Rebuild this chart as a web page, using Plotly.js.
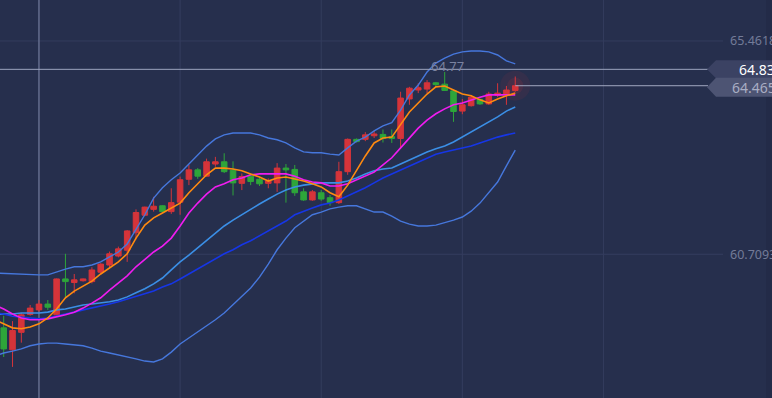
<!DOCTYPE html>
<html>
<head>
<meta charset="utf-8">
<script src="https://cdn.plot.ly/plotly-3.0.1.min.js"></script>
<style>html,body{margin:0;padding:0;background:#262f4d;overflow:hidden}</style>
</head>
<body>
<div id="chart" style="width:772px;height:398px"></div>
<script>
// ---- candle data (index 0..58) ----
const openP  = [59.07,58.58,58.97,59.37,59.47,59.60,59.36,60.16,60.08,60.12,60.10,60.31,60.47,60.67,60.80,61.19,61.58,61.71,61.79,61.66,61.87,62.38,62.59,62.45,62.72,62.77,62.58,62.29,62.45,62.38,62.29,62.30,62.63,62.60,62.10,61.92,62.08,61.97,61.86,62.55,63.27,63.27,63.35,63.38,63.33,63.29,64.17,64.37,64.39,64.53,64.50,64.35,63.90,64.02,64.16,64.06,64.25,64.27,64.36];
const highP  = [59.34,59.22,59.40,59.58,59.69,59.69,60.17,60.72,60.27,60.17,60.42,60.51,60.77,60.88,61.25,61.71,61.77,61.99,61.80,62.18,62.44,62.70,62.63,62.84,62.88,62.96,62.78,62.51,62.48,62.41,62.40,62.74,62.72,62.70,62.18,62.14,62.14,62.03,62.77,63.29,63.29,63.43,63.46,63.49,63.49,64.33,64.44,64.52,64.59,64.55,64.77,64.37,64.17,64.26,64.18,64.33,64.52,64.46,64.67];
const lowP   = [58.42,58.20,58.74,59.34,59.43,59.47,59.33,59.73,59.84,60.10,60.06,60.29,60.40,60.64,60.54,61.04,61.56,61.66,61.64,61.61,61.59,62.25,62.39,62.44,62.66,62.52,62.02,62.14,62.25,62.23,62.18,62.10,61.86,62.01,61.90,61.90,61.90,61.79,61.83,62.48,63.20,63.23,63.30,63.20,63.19,63.07,64.04,64.30,64.30,64.44,64.35,63.66,63.83,64.00,64.04,64.04,64.21,64.04,64.33];
const closeP = [58.60,59.01,59.36,59.51,59.60,59.53,60.16,60.10,60.14,60.16,60.36,60.49,60.72,60.83,61.23,61.64,61.76,61.78,61.66,61.86,62.37,62.59,62.45,62.77,62.77,62.55,62.30,62.44,62.33,62.28,62.34,62.63,62.59,62.08,61.92,62.10,61.94,61.86,62.55,63.27,63.22,63.37,63.39,63.29,63.29,64.19,64.41,64.42,64.53,64.49,64.36,63.89,64.04,64.21,64.06,64.28,64.30,64.37,64.465];

// ---- indicator lines (index -1..58) ----
const bollUpper = [60.29,60.28,60.27,60.27,60.25,60.25,60.25,60.32,60.38,60.43,60.43,60.47,60.54,60.65,60.76,60.94,61.25,61.59,61.96,62.19,62.37,62.52,62.72,62.92,63.12,63.28,63.37,63.41,63.41,63.41,63.37,63.30,63.26,63.19,63.08,62.99,62.97,62.97,62.94,62.92,63.08,63.23,63.32,63.46,63.57,63.64,63.92,64.26,64.48,64.77,64.97,65.08,65.17,65.22,65.24,65.24,65.22,65.15,65.02,64.95];
const bollLower = [58.44,58.51,58.55,58.60,58.67,58.71,58.73,58.73,58.71,58.69,58.67,58.62,58.55,58.51,58.47,58.42,58.38,58.33,58.31,58.38,58.53,58.71,58.84,58.98,59.11,59.25,59.40,59.58,59.76,59.96,60.20,60.49,60.81,61.07,61.30,61.45,61.59,61.65,61.72,61.76,61.79,61.79,61.72,61.65,61.65,61.56,61.45,61.38,61.34,61.34,61.36,61.41,61.47,61.54,61.67,61.85,62.08,62.32,62.68,63.03];
const bollMid   = [59.36,59.38,59.38,59.40,59.40,59.40,59.42,59.47,59.49,59.54,59.58,59.60,59.62,59.65,59.69,59.76,59.85,59.94,60.05,60.18,60.36,60.54,60.69,60.85,61.03,61.18,61.34,61.47,61.59,61.72,61.83,61.94,62.05,62.14,62.21,62.25,62.28,62.30,62.30,62.30,62.34,62.41,62.50,62.57,62.61,62.63,62.72,62.81,62.90,62.99,63.06,63.12,63.21,63.32,63.43,63.55,63.66,63.77,63.90,63.99];
const maSlow    = [59.40,59.38,59.33,59.31,59.29,59.27,59.29,59.33,59.38,59.42,59.47,59.51,59.56,59.60,59.65,59.71,59.76,59.83,59.89,59.98,60.05,60.16,60.27,60.38,60.49,60.60,60.72,60.81,60.92,61.01,61.12,61.23,61.34,61.45,61.59,61.67,61.74,61.81,61.85,61.92,62.01,62.10,62.19,62.30,62.41,62.50,62.59,62.68,62.77,62.86,62.94,62.99,63.03,63.08,63.12,63.19,63.26,63.32,63.37,63.41];
const maMid     = [59.58,59.49,59.38,59.29,59.25,59.25,59.27,59.31,59.36,59.42,59.51,59.62,59.74,59.91,60.07,60.23,60.43,60.60,60.76,60.89,61.07,61.34,61.63,61.85,62.05,62.21,62.28,62.37,62.41,62.48,62.50,62.50,62.50,62.50,62.45,62.37,62.32,62.30,62.23,62.23,62.28,62.37,62.45,62.54,62.70,62.86,63.08,63.30,63.52,63.70,63.84,63.95,64.04,64.08,64.15,64.21,64.26,64.26,64.26,64.26];
const maFast    = [59.25,59.16,59.07,59.05,59.09,59.16,59.29,59.49,59.74,59.89,60.00,60.11,60.27,60.40,60.54,60.72,61.07,61.36,61.52,61.63,61.74,61.85,62.08,62.28,62.48,62.63,62.63,62.61,62.57,62.50,62.43,62.34,62.41,62.43,62.39,62.34,62.28,62.21,62.08,61.99,62.25,62.59,62.90,63.19,63.30,63.32,63.59,63.88,64.08,64.28,64.44,64.46,64.37,64.28,64.24,64.15,64.08,64.17,64.24,64.30];

// ---- axis / label values ----
const tickVals = [65.4618, 60.7093];
const tickText = ['65.4618', '60.7093'];
const gridIdx = [4, 20, 36, 52, 68];
const crossIdx = 4;
const crossPrice = 64.83;
const crossText = '64.83';
const lastText = '64.465';
const highText = '64.77';

const candleX = openP.map((_, i) => i);
const lineX = bollUpper.map((_, i) => i - 1);
const N = candleX.length;

const X0 = -0.42, X1 = 87.11, Y0 = 57.507, Y1 = 66.375;
const W = 772, H = 398;
const px2x = p => X0 + (p / W) * (X1 - X0);
const pyPer = (Y1 - Y0) / H;

const lineTrace = (y, color, w) => ({
  type: 'scatter', mode: 'lines', x: lineX, y: y,
  line: {color: color, width: w || 1.4}, hoverinfo: 'skip'
});

const lastClose = closeP[N - 1];
const hiIdx = highP.indexOf(Math.max(...highP));

const traces = [
  lineTrace(bollUpper, '#4677dc'),
  lineTrace(bollLower, '#4677dc'),
  lineTrace(bollMid, '#3b8fe6', 1.6),
  lineTrace(maSlow, '#1636e6', 1.6),
  lineTrace(maMid, '#f01cf0', 1.6),
  lineTrace(maFast, '#ff8a10', 1.6),
  {
    type: 'candlestick', x: candleX, open: openP, high: highP, low: lowP, close: closeP,
    increasing: {line: {color: '#d5343a', width: 1}, fillcolor: '#d5343a'},
    decreasing: {line: {color: '#2ea53a', width: 1}, fillcolor: '#2ea53a'},
    whiskerwidth: 0, hoverinfo: 'skip'
  },
  {type: 'scatter', mode: 'markers', x: [candleX[N-1]], y: [lastClose],
   marker: {size: 30, color: 'rgba(220,50,60,0.08)'}, hoverinfo: 'skip'},
  {type: 'scatter', mode: 'markers', x: [candleX[N-1]], y: [lastClose],
   marker: {size: 16, color: 'rgba(220,50,60,0.12)'}, hoverinfo: 'skip'}
];

const gridColor = '#343d5e';
const shapes = [];
gridIdx.forEach(g => shapes.push({type: 'line', xref: 'x', yref: 'paper', x0: g, x1: g, y0: 0, y1: 1,
  line: {color: gridColor, width: 1}, layer: 'below'}));
tickVals.forEach(v => shapes.push({type: 'line', xref: 'paper', yref: 'y', x0: 0, x1: 723 / W, y0: v, y1: v,
  line: {color: gridColor, width: 1}, layer: 'below'}));
// crosshair
shapes.push({type: 'line', xref: 'x', yref: 'paper', x0: crossIdx, x1: crossIdx, y0: 0, y1: 1,
  line: {color: '#7d86a6', width: 1}, layer: 'below'});
shapes.push({type: 'line', xref: 'paper', yref: 'y', x0: 0, x1: 708 / W, y0: crossPrice, y1: crossPrice,
  line: {color: '#9ca3bd', width: 1}});
// last price line
shapes.push({type: 'line', xref: 'x', yref: 'y', x0: candleX[N-1], x1: px2x(708), y0: lastClose, y1: lastClose,
  line: {color: '#a2a8c0', width: 1}});
// tags
function tagPath(price, hPx) {
  const h = hPx * pyPer / 2;
  const xa = px2x(707), xb = px2x(716), xc = px2x(775);
  return `M ${xa} ${price} L ${xb} ${price + h} L ${xc} ${price + h} L ${xc} ${price - h} L ${xb} ${price - h} Z`;
}
shapes.push({type: 'path', xref: 'x', yref: 'y', path: tagPath(crossPrice, 18), fillcolor: '#3b4263', line: {width: 0}});
shapes.push({type: 'path', xref: 'x', yref: 'y', path: tagPath(lastClose - 1.5 * pyPer, 19), fillcolor: '#4d5473', line: {width: 0}});
// right edge strip
shapes.push({type: 'rect', xref: 'paper', yref: 'paper', x0: 766 / W, x1: 1.01, y0: 0, y1: 1, fillcolor: '#232b48', line: {width: 0}, layer: 'below'});

const font = 'Noto Sans, Open Sans, sans-serif';
const annotations = [];
tickVals.forEach((v, i) => annotations.push({xref: 'paper', yref: 'y', x: 728 / W, y: v, xanchor: 'left', yanchor: 'middle',
  text: tickText[i], showarrow: false, font: {family: font, size: 12.5, color: '#737b98'}}));
annotations.push({xref: 'paper', yref: 'y', x: 737 / W, y: crossPrice, xanchor: 'left', yanchor: 'middle',
  text: crossText, showarrow: false, font: {family: font, size: 14, color: '#ffffff'}});
annotations.push({xref: 'paper', yref: 'y', x: 730 / W, y: lastClose - 1.5 * pyPer, xanchor: 'left', yanchor: 'middle',
  text: lastText, showarrow: false, font: {family: font, size: 14, color: '#a9aec4'}});
annotations.push({xref: 'x', yref: 'y', x: candleX[hiIdx], y: highP[hiIdx], xanchor: 'center', yanchor: 'bottom',
  yshift: -5, xshift: 3,
  text: highText, showarrow: false, font: {family: font, size: 13, color: '#7a82a0'}});

const layout = {
  width: W, height: H,
  margin: {l: 0, r: 0, t: 0, b: 0, pad: 0},
  paper_bgcolor: '#262f4d', plot_bgcolor: '#262f4d',
  showlegend: false, hovermode: false, dragmode: false,
  boxgap: 0.1, boxgroupgap: 0.3,
  xaxis: {range: [X0, X1], showgrid: false, zeroline: false, showticklabels: false, showline: false,
          rangeslider: {visible: false}, fixedrange: true},
  yaxis: {range: [Y0, Y1], showgrid: false, zeroline: false, showticklabels: false, showline: false, fixedrange: true},
  shapes: shapes, annotations: annotations
};

Plotly.newPlot('chart', traces, layout, {staticPlot: true, displayModeBar: false});
</script>
</body>
</html>
